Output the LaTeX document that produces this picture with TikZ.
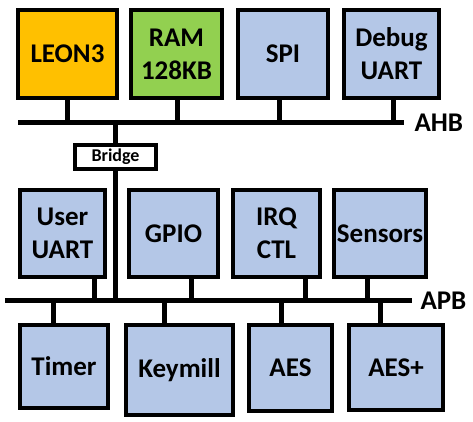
\documentclass[tikz,border=0pt]{standalone}
\usepackage{fontspec}
\setmainfont{Carlito}
\definecolor{cpuorange}{HTML}{FFC000}
\definecolor{ramgreen}{HTML}{92D050}
\definecolor{periblue}{HTML}{B4C7E7}

\begin{document}
\begin{tikzpicture} [x = 1pt, y = -1pt,
     block/.style = {draw, line width=4pt, fill=periblue, align=center, inner sep=0pt,
                     font=\fontsize{27}{33}\selectfont\bfseries},
     buslabel/.style = {anchor=west, inner sep=0pt, font=\fontsize{27}{30}\selectfont\bfseries},
     bus/.style = {line width=5pt},
     stub/.style = {line width=5pt}]
     \useasboundingbox (0,0) rectangle (473,422);

     % AHB側のブロック
     \node [block, fill=cpuorange, minimum width=99pt, minimum height=88pt] (leon) at (67.5,54) {LEON3};
     \node [block, fill=ramgreen, minimum width=91pt, minimum height=88pt] (ram) at (176.5,54) {RAM\\128KB};
     \node [block, minimum width=90pt, minimum height=88pt] (spi) at (283,54) {SPI};
     \node [block, minimum width=95pt, minimum height=88pt] (dbg) at (391.5,54) {Debug\\UART};

     % APB側のブロック (上段)
     \node [block, minimum width=85pt, minimum height=87pt] (uuart) at (62.5,233.5) {User\\UART};
     \node [block, minimum width=89pt, minimum height=87pt] (gpio) at (173.5,233.5) {GPIO};
     \node [block, minimum width=87pt, minimum height=87pt] (irq) at (276.5,233.5) {IRQ\\CTL};
     \node [block, minimum width=92pt, minimum height=87pt] (sens) at (380,233.5) {Sensors};

     % APB側のブロック (下段)
     \node [block, minimum width=88pt, minimum height=83pt] (timer) at (64,366.5) {Timer};
     \node [block, minimum width=107pt, minimum height=90pt] (keym) at (179.5,370) {Keymill};
     \node [block, minimum width=83pt, minimum height=86pt] (aes) at (290.5,368) {AES};
     \node [block, minimum width=94pt, minimum height=85pt] (aesp) at (396,367.5) {AES+};

     % ブリッジ
     \node [block, fill=white, minimum width=81pt, minimum height=24pt,
            font=\fontsize{18}{20}\selectfont\bfseries] (bridge) at (115.5,157) {Bridge};

     % バス
     \coordinate (ahbL) at (18,122.5);
     \coordinate (ahbR) at (404,122.5);
     \coordinate (apbL) at (5,300.5);
     \coordinate (apbR) at (412,300.5);

     % 接続線
     \foreach \n/\x in {leon/67.5, ram/177, spi/279.5, dbg/393.5}{
      \coordinate (t-\n) at (\x,122.5);
      \draw [stub] (\n.south -| t-\n) -- (t-\n);
     }
     \foreach \n/\x in {uuart/94.5, gpio/191, irq/305, sens/367}{
      \coordinate (t-\n) at (\x,300.5);
      \draw [stub] (\n.south -| t-\n) -- (t-\n);
     }
     \foreach \n/\x in {timer/53.5, keym/164, aes/281, aesp/380}{
      \coordinate (t-\n) at (\x,300.5);
      \draw [stub] (\n.north -| t-\n) -- (t-\n);
     }
     \draw [stub] (bridge.north) -- (bridge.north |- ahbL);
     \draw [stub] (bridge.south) -- (bridge.south |- apbL);

     \draw [bus] (ahbL) -- (ahbR) node [buslabel, xshift=8pt] (ahb) {AHB};
     \draw [bus] (apbL) -- (apbR) node [buslabel, xshift=6pt] (apb) {APB};
    \end{tikzpicture}
\end{document}
